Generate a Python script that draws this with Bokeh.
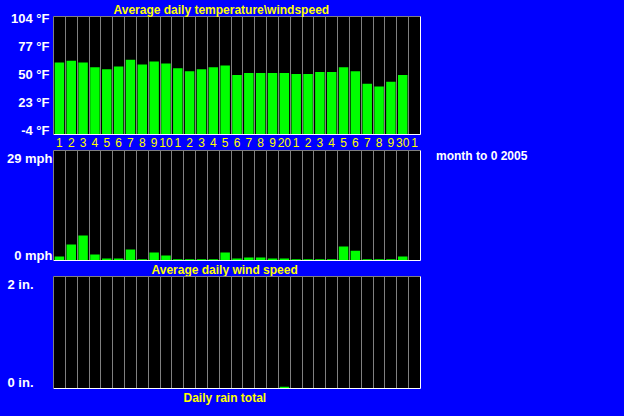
from bokeh.plotting import figure
from bokeh.layouts import column, row
from bokeh.models import (FixedTicker, Range1d, LinearAxis, Grid, Title, Div,
                          PrintfTickFormatter, GlobalInlineStyleSheet)
from bokeh.embed import file_html
from bokeh.resources import INLINE

# ---------------- data ----------------
days = list(range(1, 32))
day_labels = ["1", "2", "3", "4", "5", "6", "7", "8", "9", "10",
              "1", "2", "3", "4", "5", "6", "7", "8", "9", "20",
              "1", "2", "3", "4", "5", "6", "7", "8", "9", "30", "1"]
data_days = list(range(1, 31))
temp_f = [61.8, 63.6, 61.8, 57.5, 55.7, 58.3, 64.5, 60.1, 62.7, 61.0,
          56.6, 53.9, 55.7, 57.5, 59.2, 50.4, 52.2, 52.2, 52.2, 52.2,
          51.3, 51.3, 53.1, 53.1, 57.5, 53.9, 42.5, 39.9, 44.3, 50.4]
wind_mph = [1.05, 4.2, 6.6, 1.6, 0.5, 0.5, 2.9, 0.3, 2.1, 1.3,
            0.3, 0.3, 0.3, 0.3, 2.1, 0.5, 0.8, 0.8, 0.5, 0.5,
            0.3, 0.3, 0.3, 0.3, 3.7, 2.6, 0.3, 0.3, 0.3, 1.05]
rain_in = [0, 0, 0, 0, 0, 0, 0, 0, 0, 0,
           0, 0, 0, 0, 0, 0, 0, 0, 0, 0.03,
           0, 0, 0, 0, 0, 0, 0, 0, 0, 0]
temp_ticks = [-4, 23, 50, 77, 104]
wind_ticks = [0, 29]
rain_ticks = [0, 2]
title_temp = "Average daily temperature\\windspeed"
title_wind = "Average daily wind speed"
title_rain = "Daily rain total"
period_text = "month to 0 2005"

# ---------------- style ----------------
BLUE = "#0000FF"
GREEN = "#00FF00"
YELLOW = "#FFFF00"
GREY = "#808080"
WHITE = "#FFFFFF"
FONT = "Liberation Sans"


def make_panel(y_lo, y_hi, ticks, fmt, frame_h, top, bottom, inset_t, inset_b, standoff, right=204):
    p = figure(width=53 + 367 + right, height=top + frame_h + bottom,
               frame_width=367, frame_height=frame_h,
               x_range=Range1d(0.5, 31.5), y_range=Range1d(y_lo, y_hi),
               output_backend="svg", toolbar_location=None,
               x_axis_location=None, y_axis_location=None,
               min_border_left=53, min_border_right=right,
               min_border_top=top, min_border_bottom=bottom)
    p.background_fill_color = "black"
    p.border_fill_color = BLUE
    p.outline_line_color = None
    p.center = [c for c in p.center if not isinstance(c, Grid)]
    p.add_layout(Grid(dimension=0, ticker=FixedTicker(ticks=[d + 0.5 for d in days[:-1]]),
                      grid_line_color=GREY, grid_line_width=1))
    # labels kept slightly inside the frame, as in the original
    px = (y_hi - y_lo) / (frame_h - inset_t - inset_b)
    p.extra_y_ranges = {"labels": Range1d(y_lo - inset_b * px, y_hi + inset_t * px)}
    ya = LinearAxis(y_range_name="labels", ticker=FixedTicker(ticks=ticks),
                    formatter=PrintfTickFormatter(format=fmt),
                    axis_line_color=GREY, major_tick_line_color=None,
                    minor_tick_line_color=None, major_tick_out=0, minor_tick_out=0,
                    major_label_standoff=standoff, major_label_text_color=WHITE,
                    major_label_text_font=FONT, major_label_text_font_style="bold",
                    major_label_text_font_size="13px")
    p.add_layout(ya, "left")
    for loc, col in (("above", GREY), ("right", WHITE)):
        ax = LinearAxis(ticker=FixedTicker(ticks=[]), axis_line_color=col,
                        major_tick_out=0, minor_tick_out=0, major_label_standoff=0,
                        major_tick_line_color=None, minor_tick_line_color=None)
        p.add_layout(ax, loc)
    return p


def bottom_line(p):
    ax = LinearAxis(ticker=FixedTicker(ticks=[]), axis_line_color=WHITE,
                    major_tick_out=0, minor_tick_out=0, major_label_standoff=0,
                    major_tick_line_color=None, minor_tick_line_color=None)
    p.add_layout(ax, "below")


def make_title(text, offset):
    return Title(text=text, align="left", offset=offset, standoff=0,
                 text_color=YELLOW, text_font=FONT, text_font_style="bold",
                 text_font_size="12px")


# ---- temperature panel ----
p1 = make_panel(-4, 104, temp_ticks, "%d °F", 118, 16, 16, 2, 4, 4)
p1.vbar(x=data_days, top=temp_f, bottom=-4, width=0.8, fill_color=GREEN, line_color=None)
xa = LinearAxis(ticker=FixedTicker(ticks=days),
                major_label_overrides={d: lab for d, lab in zip(days, day_labels)},
                axis_line_color=WHITE, major_tick_line_color=None, minor_tick_line_color=None,
                major_tick_out=0, minor_tick_out=0, major_label_standoff=3,
                major_label_text_color=YELLOW, major_label_text_font=FONT,
                major_label_text_font_size="12px")
p1.add_layout(xa, "below")
p1.add_layout(make_title(title_temp, 60), "above")

# ---- wind panel ----
p2 = make_panel(0, 29, wind_ticks, "%d mph", 110, 0, 16, 7, 5, 1, right=16)
p2.vbar(x=data_days, top=wind_mph, bottom=0, width=0.8, fill_color=GREEN, line_color=None)
bottom_line(p2)
p2.add_layout(make_title(title_wind, 98), "below")
period_div = Div(text=period_text, width=188, height=p2.height, margin=0,
                 styles={"color": WHITE, "font-family": FONT, "font-weight": "bold",
                         "font-size": "12px", "background-color": BLUE,
                         "line-height": "12px"})

# ---- rain panel ----
p3 = make_panel(0, 2, rain_ticks, "%d in.", 112, 0, 28, 4, 6, 20)
p3.vbar(x=data_days, top=rain_in, bottom=0, width=0.8, fill_color=GREEN, line_color=None)
bottom_line(p3)
p3.add_layout(make_title(title_rain, 130), "below")

layout = column(p1, row(p2, period_div, spacing=0), p3, spacing=0,
                stylesheets=[GlobalInlineStyleSheet(css="html, body { margin: 0; padding: 0; background: #0000FF; }")])

open("out.html", "w").write(file_html(layout, INLINE))
